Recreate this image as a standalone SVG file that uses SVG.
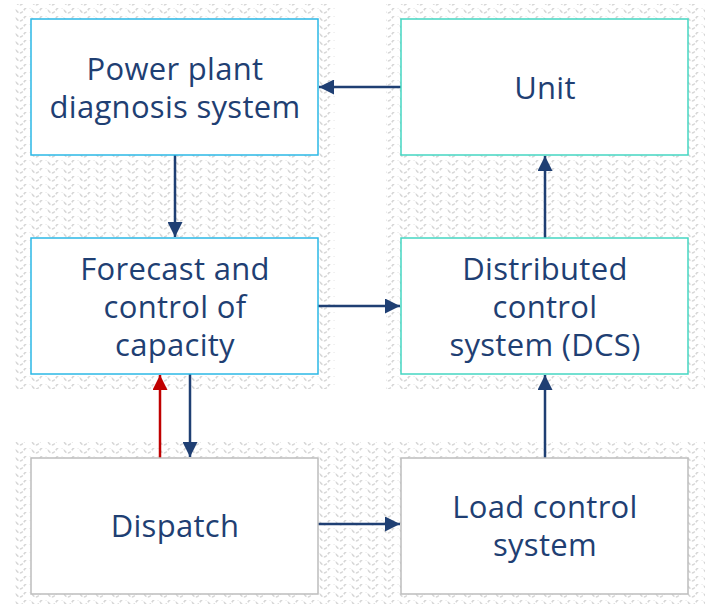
<svg xmlns="http://www.w3.org/2000/svg" width="705" height="604" viewBox="0 0 705 604">
<style>
.node rect{fill:#ffffff;stroke-width:1.5}
.b1 rect{stroke:#2bb8e6}
.b2 rect{stroke:#44d6c2}
.b3 rect{stroke:#bdbdbd}
text{font-family:"Open Sans","Noto Sans","Liberation Sans",sans-serif;font-size:31px;letter-spacing:0.3px;fill:#1f3f73;text-anchor:middle}
.c{stroke:#1f3f73;stroke-width:2.5;fill:none;marker-end:url(#ah)}
.r{stroke:#c00000;stroke-width:2.5;fill:none;marker-end:url(#ahr)}
</style>
<defs>
<pattern id="wave" width="16" height="8" patternUnits="userSpaceOnUse">
<path d="M0,2 Q4,8 8,2 Q12,-4 16,2" fill="none" stroke="#d6d6d6" stroke-width="1.5" stroke-dasharray="3.5,1.5"/>
</pattern>
<marker id="ah" viewBox="0 0 10 10" refX="10" refY="5" markerWidth="6" markerHeight="6" markerUnits="strokeWidth" orient="auto"><path d="M0,0 L10,5 L0,10 z" fill="#1f3f73"/></marker>
<marker id="ahr" viewBox="0 0 10 10" refX="10" refY="5" markerWidth="6" markerHeight="6" markerUnits="strokeWidth" orient="auto"><path d="M0,0 L10,5 L0,10 z" fill="#c00000"/></marker>
</defs>
<g id="background">
<rect x="15" y="4" width="320" height="385" fill="url(#wave)"/>
<rect x="386" y="4" width="319" height="385" fill="url(#wave)"/>
<rect x="15" y="442" width="690" height="162" fill="url(#wave)"/>
</g>
<g id="connectors">
<line class="c" x1="401" y1="87" x2="319" y2="87"/>
<line class="c" x1="175" y1="155" x2="175" y2="237"/>
<line class="c" x1="318" y1="306" x2="400" y2="306"/>
<line class="c" x1="545" y1="238" x2="545" y2="156"/>
<line class="c" x1="545" y1="458" x2="545" y2="375"/>
<line class="c" x1="318" y1="524" x2="400" y2="524"/>
<line class="r" x1="160" y1="458" x2="160" y2="375"/>
<line class="c" x1="190" y1="374" x2="190" y2="457"/>
</g>
<g id="power-plant" class="node b1"><rect x="31" y="19" width="287" height="136"/><text x="175" y="80">Power plant</text><text x="175" y="118">diagnosis system</text></g>
<g id="unit" class="node b2"><rect x="401" y="19" width="287" height="136"/><text x="545" y="99">Unit</text></g>
<g id="forecast" class="node b1"><rect x="31" y="238" width="287" height="136"/><text x="175" y="280">Forecast and</text><text x="175" y="318">control of</text><text x="175" y="356">capacity</text></g>
<g id="dcs" class="node b2"><rect x="401" y="238" width="287" height="136"/><text x="545" y="280">Distributed</text><text x="545" y="318">control</text><text x="545" y="356">system (DCS)</text></g>
<g id="dispatch" class="node b3"><rect x="31" y="458" width="287" height="136"/><text x="175" y="537">Dispatch</text></g>
<g id="load" class="node b3"><rect x="401" y="458" width="287" height="136"/><text x="545" y="518">Load control</text><text x="545" y="556">system</text></g>
</svg>
